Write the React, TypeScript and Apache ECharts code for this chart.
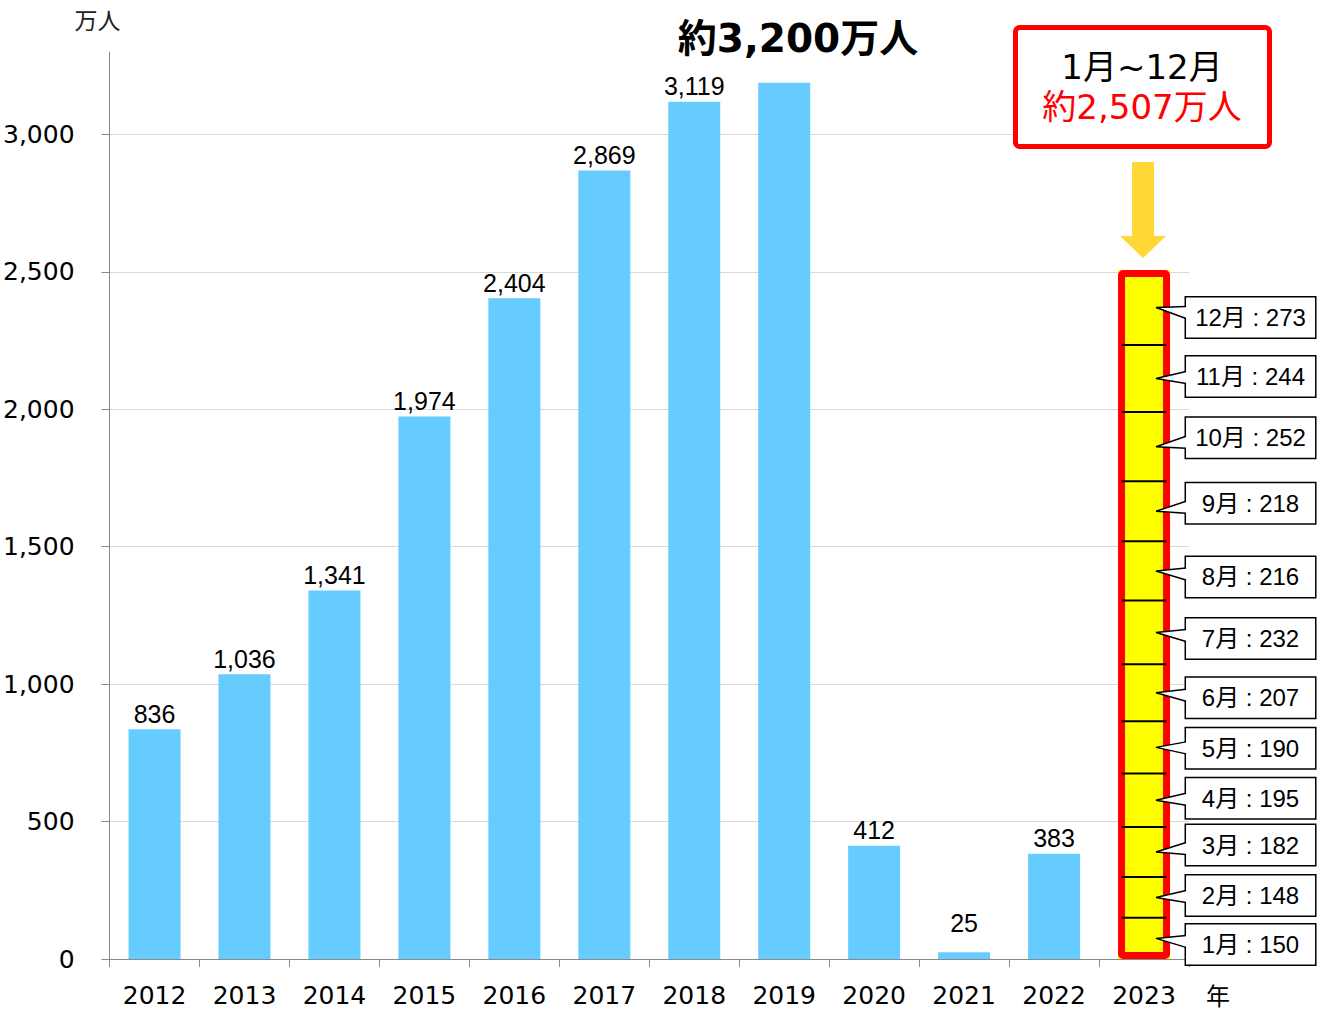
import React, { useEffect, useRef } from 'react';
import * as echarts from 'echarts';

const years = ['2012', '2013', '2014', '2015', '2016', '2017', '2018', '2019', '2020', '2021', '2022', '2023'];
const annual = [836, 1036, 1341, 1974, 2404, 2869, 3119, 3188, 412, 25, 383];
const months = ['1月', '2月', '3月', '4月', '5月', '6月', '7月', '8月', '9月', '10月', '11月', '12月'];
const monthly2023 = [150, 148, 182, 195, 190, 207, 232, 216, 218, 252, 244, 273];
const yTicks = [0, 500, 1000, 1500, 2000, 2500, 3000];
const unlabeledYear = '2019';
const liftedLabelYear = '2021';
const peakNote = '約3,200万人';
const boxLine1 = '1月~12月';
const boxLine2 = '約2,507万人';
const yName = '万人';
const xName = '年';

// layout: vertical shift (px) of each month's callout box relative to its segment
const calloutShift = [6, -2, -7, -2, 1, 5, 6, 6, -8, -9, -2, 10];

const AXIS_FONT = "'DejaVu Sans', 'Noto Sans CJK JP', sans-serif";
const LABEL_FONT = "'Liberation Sans', 'Noto Sans CJK JP', sans-serif";
const CJK_FONT = "'DejaVu Sans', 'Noto Sans CJK JP', sans-serif";

export default function App() {
  const ref = useRef<HTMLDivElement>(null);

  useEffect(() => {
    if (!ref.current) return;
    const chart = echarts.init(ref.current, undefined, { renderer: 'svg' });
    const last = years.length - 1;
    const total = monthly2023.reduce((a, b) => a + b, 0);
    const fmt = (v: number) => v.toLocaleString('en-US');

    const blueData = years.map((y, i) =>
      i < annual.length
        ? {
            value: annual[i],
            label: {
              show: y !== unlabeledYear,
              offset: y === liftedLabelYear ? [0, -14] : [0, 0],
            },
          }
        : '-'
    );

    const monthSeries = months.map((m, k) => ({
      type: 'bar',
      name: m,
      stack: 'total',
      barWidth: 52,
      barGap: '-100%',
      data: years.map((_, i) => (i === last ? monthly2023[k] : '-')),
      itemStyle: { color: '#FFFF00' },
      label: {
        show: true,
        position: 'right',
        distance: 16,
        offset: [0, calloutShift[k]],
        formatter: (p: any) => `{t|${m} : ${p.value}}`,
        backgroundColor: '#ffffff',
        borderColor: '#000000',
        borderWidth: 1.5,
        padding: [6, 6],
        rich: {
          t: {
            width: 117,
            align: 'center',
            fontSize: 24,
            lineHeight: 28,
            fontFamily: LABEL_FONT,
            color: '#000000',
          },
        },
      },
      z: 2,
    }));

    const option: any = {
      animation: false,
      backgroundColor: '#ffffff',
      grid: { left: 109, right: 137, top: 52, bottom: 59, containLabel: false },
      xAxis: {
        type: 'category',
        data: years,
        axisLine: { lineStyle: { color: '#898989', width: 1 } },
        axisTick: { show: true, length: 8, lineStyle: { color: '#898989' } },
        axisLabel: { margin: 24, fontSize: 25, fontFamily: AXIS_FONT, color: '#000' },
      },
      yAxis: {
        type: 'value',
        min: 0,
        max: 3300,
        interval: 500,
        name: yName,
        nameLocation: 'end',
        nameGap: 20,
        nameTextStyle: {
          fontSize: 23,
          fontFamily: CJK_FONT,
          color: '#222',
          align: 'center',
          padding: [0, 24, 0, 0],
        },
        axisLine: { show: true, lineStyle: { color: '#898989', width: 1 } },
        axisTick: { show: true, length: 8, lineStyle: { color: '#898989' }, customValues: yTicks },
        axisLabel: {
          margin: 35,
          fontSize: 25,
          fontFamily: AXIS_FONT,
          color: '#000',
          customValues: yTicks,
          formatter: (v: number) => fmt(v),
        },
        splitLine: { show: true, lineStyle: { color: '#D9D9D9', width: 1 } },
      },
      series: [
        {
          type: 'bar',
          name: 'annual',
          stack: 'total',
          barWidth: 52,
          barGap: '-100%',
          data: blueData,
          itemStyle: { color: '#66CCFF' },
          label: {
            show: true,
            position: 'top',
            distance: 3,
            fontSize: 25,
            fontFamily: LABEL_FONT,
            color: '#000',
            formatter: (p: any) => fmt(p.value),
          },
          z: 2,
        },
        ...monthSeries,
        {
          type: 'bar',
          name: 'outline',
          barWidth: 52,
          barGap: '-100%',
          data: years.map((_, i) => (i === last ? total : '-')),
          itemStyle: {
            color: 'rgba(0,0,0,0)',
            borderColor: '#FF0000',
            borderWidth: 7,
            borderRadius: 1.5,
          },
          label: { show: false },
          silent: true,
          z: 3,
        },
      ],
    };

    chart.setOption(option);

    const graphics: any[] = [];
    let cum = 0;
    monthly2023.forEach((v, k) => {
      const lower = cum;
      const mid = cum + v / 2;
      cum += v;
      const pt = chart.convertToPixel({ xAxisIndex: 0, yAxisIndex: 0 }, [last, mid]) as number[];
      const px = pt[0];
      const py = pt[1];
      const bx = px + 42;
      const boxCenter = py + calloutShift[k];
      const m = (py + boxCenter) / 2;
      if (k > 0) {
        const lp = chart.convertToPixel({ xAxisIndex: 0, yAxisIndex: 0 }, [last, lower]) as number[];
        graphics.push({
          type: 'line',
          z: 90,
          shape: { x1: px - 22.5, y1: lp[1], x2: px + 22.5, y2: lp[1] },
          style: { stroke: '#000000', lineWidth: 2 },
        });
      }
      graphics.push({
        type: 'polygon',
        z: 100,
        shape: { points: [[bx + 1.5, m - 6], [px + 12, py], [bx + 1.5, m + 6]] },
        style: { fill: '#ffffff', stroke: 'none' },
      });
      graphics.push({
        type: 'polyline',
        z: 101,
        shape: { points: [[bx, m - 6], [px + 12, py], [bx, m + 6]] },
        style: { stroke: '#000000', lineWidth: 1.5, fill: 'none' },
      });
    });

    graphics.push({
      type: 'text',
      z: 100,
      x: 1206,
      y: 997,
      style: {
        text: xName,
        fontSize: 24,
        fontFamily: CJK_FONT,
        fill: '#000',
        align: 'left',
        verticalAlign: 'middle',
      },
    });
    graphics.push({
      type: 'text',
      z: 100,
      x: 798,
      y: 38,
      style: {
        text: peakNote,
        fontSize: 39,
        fontWeight: 'bold',
        fontFamily: CJK_FONT,
        fill: '#000',
        align: 'center',
        verticalAlign: 'middle',
      },
    });
    graphics.push({
      type: 'rect',
      z: 100,
      shape: { x: 1015.5, y: 27.5, width: 254, height: 119, r: 4 },
      style: { fill: '#ffffff', stroke: '#FF0000', lineWidth: 5 },
    });
    graphics.push({
      type: 'text',
      z: 101,
      x: 1142,
      y: 67,
      style: {
        text: boxLine1,
        fontSize: 34,
        fontFamily: CJK_FONT,
        fill: '#000',
        align: 'center',
        verticalAlign: 'middle',
      },
    });
    graphics.push({
      type: 'text',
      z: 101,
      x: 1142,
      y: 107,
      style: {
        text: boxLine2,
        fontSize: 34,
        fontFamily: CJK_FONT,
        fill: '#FF0000',
        align: 'center',
        verticalAlign: 'middle',
      },
    });
    graphics.push({
      type: 'polygon',
      z: 100,
      shape: {
        points: [
          [1132, 162],
          [1154, 162],
          [1154, 236],
          [1166, 236],
          [1143, 258],
          [1120, 236],
          [1132, 236],
        ],
      },
      style: { fill: '#FFD737', stroke: 'none' },
    });

    chart.setOption({ graphic: graphics });

    return () => {
      chart.dispose();
    };
  }, []);

  return (
    <div
      ref={ref}
      style={{ position: 'fixed', left: 0, top: 0, width: 1326, height: 1018, background: '#fff' }}
    />
  );
}
